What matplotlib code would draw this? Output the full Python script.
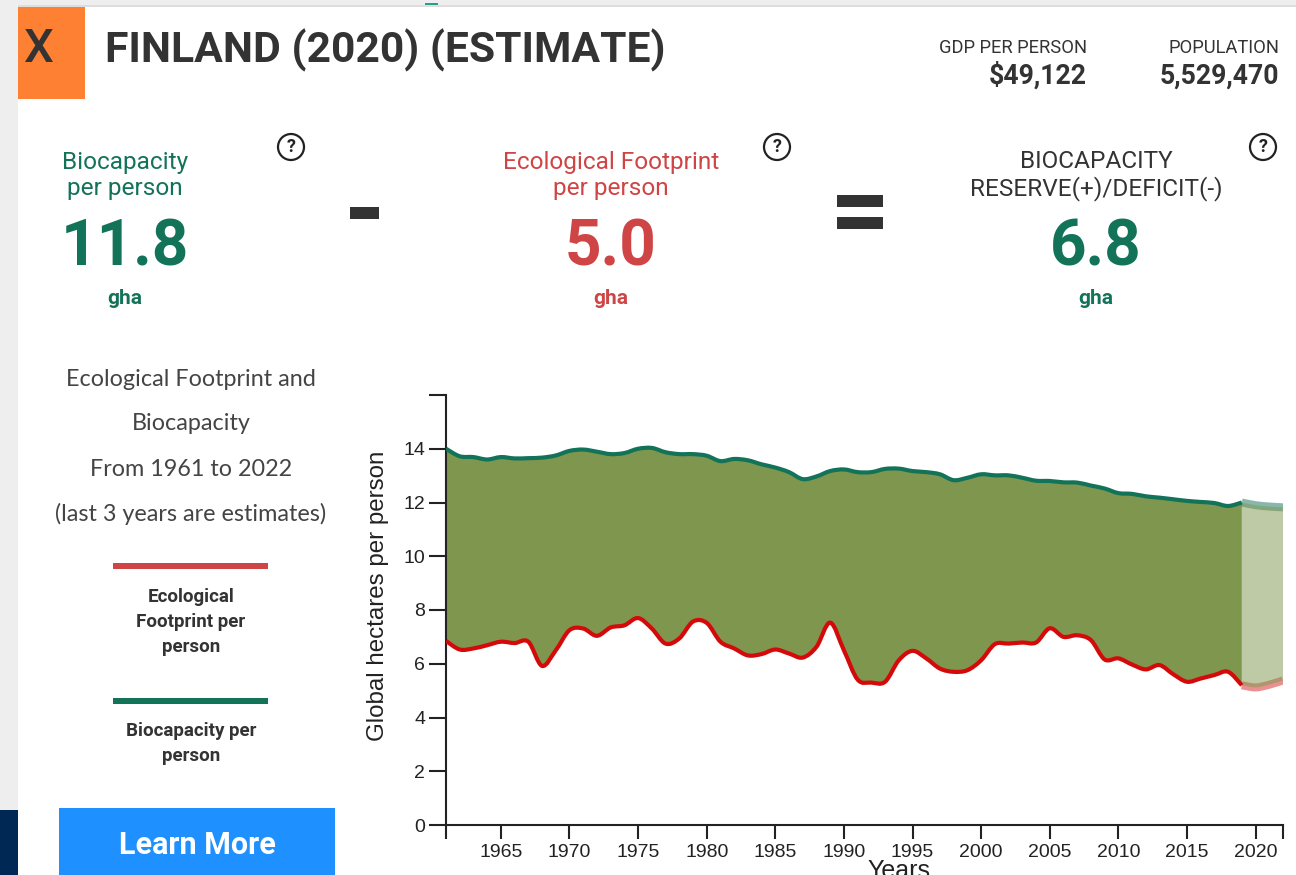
#!/usr/bin/env python3
"""Finland ecological footprint / biocapacity country card."""

import matplotlib
matplotlib.use('Agg')
import matplotlib.pyplot as plt
from matplotlib.patches import Circle, PathPatch, Rectangle
from matplotlib.path import Path

W, H = 1296, 875
TEAL = '#137359'
RED = '#cf4444'
DARK = '#333333'
LINE_RED = '#d40a0a'
FILL = '#7f964f'

years = list(range(1961, 2023))
biocapacity = [14.0, 13.72, 13.69, 13.6, 13.69, 13.64, 13.65, 13.67, 13.75, 13.92,
               13.97, 13.89, 13.8, 13.84, 14.0, 14.03, 13.87, 13.8, 13.8, 13.74,
               13.54, 13.62, 13.57, 13.42, 13.3, 13.13, 12.87, 12.97, 13.17, 13.23,
               13.13, 13.13, 13.25, 13.26, 13.17, 13.13, 13.05, 12.83, 12.92, 13.05,
               13.01, 13.01, 12.92, 12.81, 12.8, 12.75, 12.74, 12.63, 12.52, 12.35,
               12.32, 12.23, 12.18, 12.12, 12.06, 12.02, 11.98, 11.87, 12.0, 11.9,
               11.85, 11.82]
footprint = [6.85, 6.53, 6.57, 6.69, 6.82, 6.77, 6.82, 5.92, 6.5, 7.25,
             7.31, 7.04, 7.35, 7.43, 7.7, 7.31, 6.75, 6.94, 7.57, 7.52,
             6.82, 6.57, 6.31, 6.36, 6.53, 6.38, 6.23, 6.63, 7.53, 6.5,
             5.41, 5.3, 5.33, 6.13, 6.48, 6.2, 5.82, 5.7, 5.76, 6.13,
             6.73, 6.75, 6.79, 6.79, 7.32, 7.0, 7.06, 6.88, 6.16, 6.2,
             5.97, 5.79, 5.95, 5.61, 5.33, 5.45, 5.58, 5.7, 5.2, 5.12,
             5.22, 5.38]
est_start = 2019
x_ticks = list(range(1965, 2025, 5))
y_ticks = list(range(0, 16, 2))


def curve(xs, ys, move=True):
    """Path vertices and codes for a smooth curve through the yearly values."""
    verts = [(xs[0], ys[0])]
    codes = [Path.MOVETO if move else Path.LINETO]
    for i in range(len(xs) - 1):
        a, d = max(i - 1, 0), min(i + 2, len(xs) - 1)
        verts.append((xs[i] + (xs[i + 1] - xs[a]) / 6, ys[i] + (ys[i + 1] - ys[a]) / 6))
        verts.append((xs[i + 1] - (xs[d] - xs[i]) / 6, ys[i + 1] - (ys[d] - ys[i]) / 6))
        verts.append((xs[i + 1], ys[i + 1]))
        codes += [Path.CURVE4] * 3
    return verts, codes


def band(ax, xs, upper, lower, alpha, zorder):
    v1, c1 = curve(xs, upper)
    v2, c2 = curve(xs[::-1], lower[::-1], move=False)
    ax.add_patch(PathPatch(Path(v1 + v2, c1 + c2), facecolor=FILL, edgecolor='none',
                           alpha=alpha, zorder=zorder))


def line(ax, xs, ys, color, alpha=1.0, width=3.0, zorder=3):
    v, c = curve(xs, ys)
    ax.add_patch(PathPatch(Path(v, c), fill=False, edgecolor=color, alpha=alpha,
                           linewidth=width, zorder=zorder, capstyle='butt'))


fig = plt.figure(figsize=(W / 100, H / 100), dpi=100, facecolor='white')
plt.rcParams['font.family'] = ['Roboto', 'DejaVu Sans']

# page layer in pixel coordinates
page = fig.add_axes([0, 0, 1, 1])
page.set_xlim(0, W)
page.set_ylim(H, 0)
page.axis('off')

page.add_patch(Rectangle((0, 0), 18, H, color='#eeeeee', lw=0))
page.add_patch(Rectangle((0, 0), W, 5, color='#eeeeee', lw=0))
page.add_patch(Rectangle((18, 5), W, 2, color='#dddddd', lw=0))
page.add_patch(Rectangle((0, 810), 18, 65, color='#002855', lw=0))
page.add_patch(Rectangle((18, 7), 67, 92, color='#fe8033', lw=0))
page.add_patch(Rectangle((59, 808), 276, 67, color='#1e90ff', lw=0))
page.add_patch(Rectangle((425, 3), 13, 2, color='#2a9d8f', lw=0))

page.text(38, 49, 'X', fontsize=34, color=DARK, fontweight=500, ha='center', va='center')
page.text(105, 50, 'FINLAND (2020) (ESTIMATE)', fontsize=30.7, color=DARK,
          fontweight='bold', ha='left', va='center')
page.text(1087, 48, 'GDP PER PERSON', fontsize=13.2, color=DARK, ha='right', va='center')
page.text(1087, 76, '$49,122', fontsize=19.2, color=DARK, fontweight='bold', ha='right', va='center')
page.text(1279, 48, 'POPULATION', fontsize=13.2, color=DARK, ha='right', va='center')
page.text(1279, 76, '5,529,470', fontsize=19.2, color=DARK, fontweight='bold', ha='right', va='center')

columns = [(125, ['Biocapacity', 'per person'], '11.8', TEAL, TEAL),
           (611, ['Ecological Footprint', 'per person'], '5.0', RED, RED),
           (1096, ['BIOCAPACITY', 'RESERVE(+)/DEFICIT(-)'], '6.8', DARK, TEAL)]
for cx, head, value, head_color, color in columns:
    page.text(cx, 162, head[0], fontsize=17.6, color=head_color, ha='center', va='center')
    page.text(cx, 189, head[1], fontsize=17.6, color=head_color, ha='center', va='center')
    page.text(cx, 248, value, fontsize=46, color=color, fontweight='bold', ha='center', va='center')
    page.text(cx, 299, 'gha', fontsize=15, color=color, fontweight='bold', ha='center', va='center')

for cx in (291, 777, 1263):
    page.add_patch(Circle((cx, 147), 13, fill=False, edgecolor='#222222', lw=1.6))
    page.text(cx, 147, '?', fontsize=13, color='#222222', fontweight='bold', ha='center', va='center')

page.add_patch(Rectangle((350, 207), 29, 12, color=DARK, lw=0))
page.add_patch(Rectangle((837, 195), 46, 12, color=DARK, lw=0))
page.add_patch(Rectangle((837, 217), 46, 12, color=DARK, lw=0))

for y, s in zip((379, 424, 469, 514),
                ('Ecological Footprint and', 'Biocapacity', 'From 1961 to 2022',
                 '(last 3 years are estimates)')):
    page.text(191, y, s, fontsize=16.8, color='#444444', ha='center', va='center',
              family=['Lato', 'DejaVu Sans'])

page.add_patch(Rectangle((113, 563), 155, 6, color=RED, lw=0))
page.add_patch(Rectangle((113, 698), 155, 6, color=TEAL, lw=0))
for y, s in zip((597, 622, 647, 731, 756),
                ('Ecological', 'Footprint per', 'person', 'Biocapacity per', 'person')):
    page.text(191, y, s, fontsize=13.5, color=DARK, fontweight='bold', ha='center', va='center')

page.text(197, 845, 'Learn More', fontsize=22, color='white', fontweight='bold', ha='center', va='center')

# chart, placed so the years and values land on the reference's axes
left, right = 446, 1283
top, bottom = 395, 825
ax = fig.add_axes([left / W, 1 - bottom / H, (right - left) / W, (bottom - top) / H])
ax.patch.set_alpha(0)
ax.set_xlim(1961, 2022)
ax.set_ylim(0, 16)

n = years.index(est_start) + 1
est_years = years[n - 1:]
band(ax, years[:n], biocapacity[:n], footprint[:n], 1.0, 1)

# estimate years: faded thick lines sit under a half transparent fill
line(ax, est_years, biocapacity[n - 1:], TEAL, alpha=0.5, width=5.8, zorder=1)
line(ax, est_years, footprint[n - 1:], LINE_RED, alpha=0.45, width=5.8, zorder=1)
band(ax, est_years, biocapacity[n - 1:], footprint[n - 1:], 0.5, 2)

line(ax, years[:n], biocapacity[:n], TEAL)
line(ax, years[:n], footprint[:n], LINE_RED)

for side in ('top', 'right'):
    ax.spines[side].set_visible(False)
for side in ('left', 'bottom'):
    ax.spines[side].set_linewidth(1.5)
    ax.spines[side].set_color('#222222')
ax.set_xticks([1961] + x_ticks + [2022])
ax.set_xticklabels([''] + [str(y) for y in x_ticks] + [''])
ax.set_yticks(y_ticks + [16])
ax.set_yticklabels([str(y) for y in y_ticks] + [''])
ax.tick_params(axis='x', length=10, width=1.5, color='#222222', labelsize=14,
               labelcolor='#222222', pad=4)
ax.tick_params(axis='y', length=12, width=1.5, color='#222222', labelsize=14,
               labelcolor='#222222', pad=3)
for label in ax.get_xticklabels() + ax.get_yticklabels():
    label.set_fontfamily(['Liberation Sans', 'DejaVu Sans'])

page.text(378, 596, 'Global hectares per person', fontsize=17.4, color='#222222', rotation=90,
          ha='center', va='center', family=['Liberation Sans', 'DejaVu Sans'])
page.text(899, 871, 'Years', fontsize=18, color='#222222', ha='center', va='center',
          family=['Liberation Sans', 'DejaVu Sans'])

plt.savefig('out.png', dpi=100)
